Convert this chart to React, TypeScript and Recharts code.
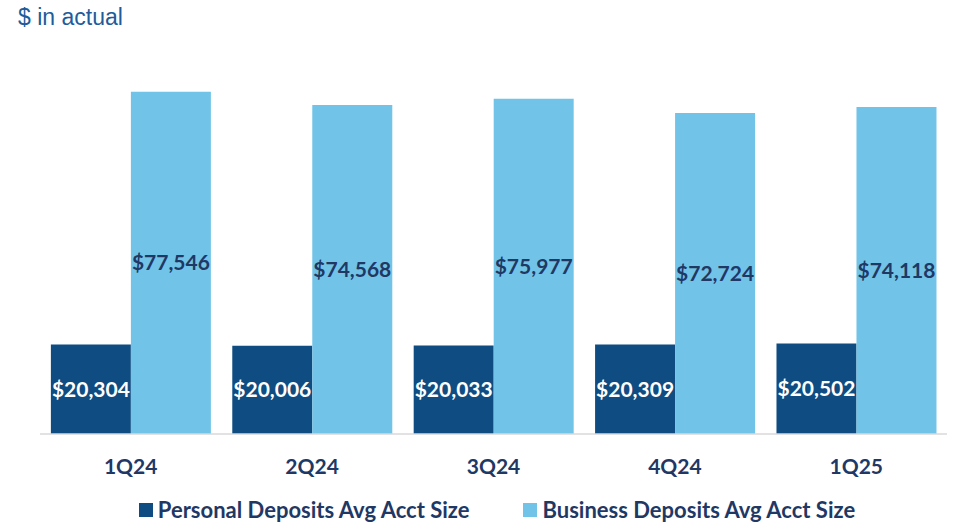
import { BarChart, Bar, XAxis, YAxis, Legend, LabelList } from "recharts";

const quarters = ["1Q24", "2Q24", "3Q24", "4Q24", "1Q25"];
const personal = [20304, 20006, 20033, 20309, 20502];
const business = [77546, 74568, 75977, 72724, 74118];
const seriesNames = ["Personal Deposits Avg Acct Size", "Business Deposits Avg Acct Size"];

const data = quarters.map((q, i) => ({ q, personal: personal[i], business: business[i] }));

const NAVY = "#1F3864";
const FONT = "Lato, sans-serif";
const fmt = (v: number) => "$" + v.toLocaleString("en-US");

function LegendContent({ payload }: any) {
  const items = [...(payload || [])].sort(
    (a: any, b: any) => seriesNames.indexOf(a.value) - seriesNames.indexOf(b.value)
  );
  return (
    <div style={{ display: "flex", justifyContent: "center", gap: 54 }}>
      {items.map((it: any) => (
        <div key={it.value} style={{ display: "flex", alignItems: "center" }}>
          <span style={{ width: 14, height: 14, background: it.color, marginRight: 5, display: "inline-block" }} />
          <span style={{ color: NAVY, fontFamily: FONT, fontWeight: 700, fontSize: 22 }}>{it.value}</span>
        </div>
      ))}
    </div>
  );
}

export default function App() {
  return (
    <div style={{ position: "absolute", left: 0, top: 0, width: 954, height: 523, background: "#fff" }}>
      <div
        style={{
          position: "absolute", left: 18, top: 4,
          fontFamily: "'Liberation Sans', Arial, sans-serif", fontSize: 23, color: "#1E5C9B",
        }}
      >
        $ in actual
      </div>
      <BarChart
        width={954}
        height={523}
        data={data}
        margin={{ top: 81, right: 7, left: 40, bottom: 0 }}
        barCategoryGap="6%"
        barGap={0}
      >
        <XAxis
          dataKey="q"
          axisLine={{ stroke: "#D9D9D9", strokeWidth: 1.5 }}
          tickLine={false}
          height={62}
          tick={{ fill: NAVY, fontSize: 21, fontWeight: 700, fontFamily: FONT }}
          tickMargin={19}
        />
        <YAxis hide domain={[0, 80000]} />
        <Legend content={<LegendContent />} wrapperStyle={{ left: 40, width: 914 }} />
        <Bar dataKey="personal" name={seriesNames[0]} fill="#0F4C81" isAnimationActive={false}>
          <LabelList dataKey="personal" position="center" formatter={fmt}
            style={{ fill: "#fff", fontSize: 21, fontWeight: 700, fontFamily: FONT }} />
        </Bar>
        <Bar dataKey="business" name={seriesNames[1]} fill="#71C4E8" isAnimationActive={false}>
          <LabelList dataKey="business" position="center" formatter={fmt}
            style={{ fill: NAVY, fontSize: 21, fontWeight: 700, fontFamily: FONT }} />
        </Bar>
      </BarChart>
    </div>
  );
}
